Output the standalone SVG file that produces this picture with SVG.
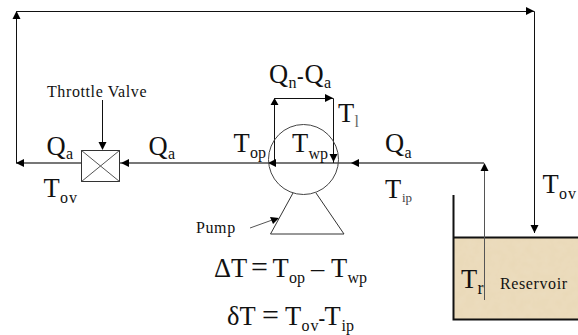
<svg xmlns="http://www.w3.org/2000/svg" width="578" height="335" viewBox="0 0 578 335">
<style>
text{font-family:"Liberation Serif","Times New Roman",serif;fill:#111}
.b{font-size:26.500px}
.s{font-size:16px}
.m{font-size:16px;letter-spacing:.6px}
.k{fill:none;stroke:#111;stroke-width:1}
.g{fill:none;stroke:#777;stroke-width:2}
.t{fill:none;stroke:#555;stroke-width:1}
.w{fill:none;stroke:#111;stroke-width:2}
.h{fill:#000}
</style>
<defs>
<filter id="sand" x="0" y="0" width="100%" height="100%">
<feTurbulence type="fractalNoise" baseFrequency="0.12" numOctaves="3" seed="4"/>
<feColorMatrix values="0 0 0 0 0.85 0 0 0 0 0.76 0 0 0 0 0.58 0.5 0 0 0 -0.08"/>
</filter>
</defs>
<rect width="578" height="335" fill="#fff"/>
<g id="reservoir">
<rect x="454" y="237" width="124" height="83" fill="#ead9b8"/>
<rect x="454" y="237" width="124" height="83" filter="url(#sand)"/>
<path class="w" d="M453.500 195V319.500H578M453.500 237.500H578"/>
<text class="m" x="500" y="289">Reservoir</text>
<text class="b" x="461" y="288">T</text><text class="s" x="477.500" y="294" style="font-size:18px">r</text>
</g>
<g id="connectors">
<path class="g" d="M484 163H16"/>
<path class="k" d="M16.500 163V11.500H534.500V233"/>
<path class="t" d="M484.500 300V166"/>
<path class="k" d="M274.500 163V98.500H333.500V163"/>
<path class="k" d="M102.500 100V145"/>
<path class="t" d="M250 228L275 219"/>
<path class="h" d="M16 163l8-4v8zM121 163l8-4v8zM268 163l8-4v8zM351 163l8-4v8zM16.500 11l-4 8h8zM534 11l-8-4v8zM534.500 233l-4-8h8zM484.500 163l-4 8h8zM274.500 98l-4 7h8zM333 98l-8-4v8zM333.500 162l-4-8h8zM102.500 150l-4-8h8zM279 218l-9 -1 3 7z"/>
</g>
<g id="valve">
<rect x="81.500" y="150.500" width="38" height="31" fill="#fff" stroke="#333"/>
<path fill="none" stroke="#555" d="M81.500 150.500L119.500 181.500M119.500 150.500L81.500 181.500"/>
<text class="m" x="47" y="97">Throttle Valve</text>
</g>
<g id="pump">
<circle cx="303.500" cy="159.500" r="35" fill="none" stroke="#444"/>
<path fill="none" stroke="#333" d="M293 193L270.500 234H344L316 193"/>
<text class="m" x="196" y="233">Pump</text>
</g>
<g id="labels">
<text class="b" x="46.500" y="155">Q</text><text class="s" x="66" y="159">a</text>
<text class="b" x="148.500" y="155">Q</text><text class="s" x="168" y="159">a</text>
<text class="b" x="43.500" y="197">T</text><text class="s" x="60" y="203" letter-spacing="1">ov</text>
<text class="b" x="233.500" y="152">T</text><text class="s" x="250" y="158">op</text>
<text class="b" x="292" y="152">T</text><text class="s" x="308.500" y="159">wp</text>
<text class="b" x="269" y="83">Q</text><text class="s" x="288.500" y="88">n</text>
<text class="b" x="297" y="83" style="font-weight:bold;font-size:20px">-</text><text class="b" x="304.500" y="83">Q</text><text class="s" x="324" y="88">a</text>
<text class="b" x="338" y="122">T</text><text class="s" x="354.500" y="127" style="fill:#666">l</text>
<text class="b" x="385" y="152">Q</text><text class="s" x="404.500" y="158">a</text>
<text class="b" x="385" y="198">T</text><text class="s" x="402" y="202" style="font-size:13px;fill:#444">ip</text>
<text class="b" x="542.500" y="193">T</text><text class="s" x="559" y="199" letter-spacing="1">ov</text>
<text class="b" x="214" y="277">ΔT</text><text class="b" style="font-size:30px" x="251" y="277">=</text><text class="b" x="272.500" y="277">T</text><text class="s" x="289" y="283">op</text><text class="b" x="311" y="277">–</text><text class="b" x="331" y="277">T</text><text class="s" x="347.500" y="283">wp</text>
<text class="b" x="227" y="325">δT</text><text class="b" style="font-size:30px" x="262" y="325">=</text><text class="b" x="285" y="325">T</text><text class="s" x="301.500" y="331" letter-spacing="1">ov</text><text class="b" x="318.500" y="325" style="font-weight:bold;font-size:20px">-</text><text class="b" x="324.500" y="325">T</text><text class="s" x="341.500" y="331">ip</text>
</g>
</svg>
